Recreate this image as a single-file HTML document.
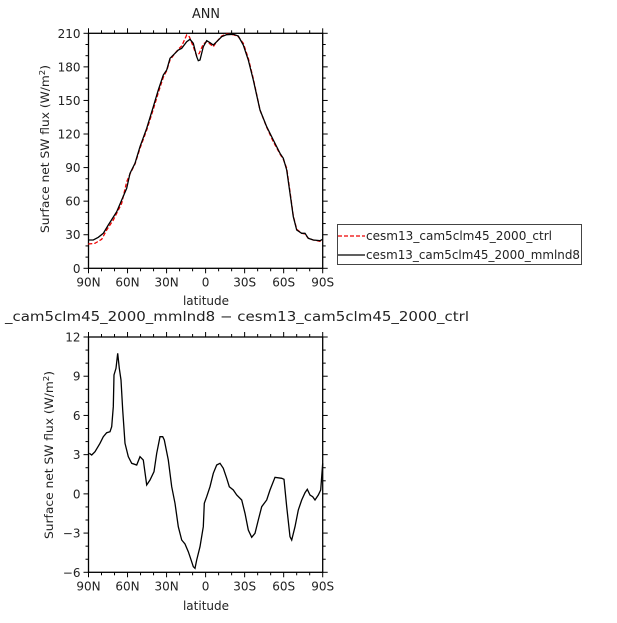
<!DOCTYPE html>
<html><head><meta charset="utf-8"><style>
body{margin:0;background:#fff;width:617px;height:618px;overflow:hidden}
text{font-family:"DejaVu Sans","Liberation Sans",sans-serif;fill:#222}
</style></head><body>
<svg id="s" width="617" height="618" xmlns="http://www.w3.org/2000/svg">
<text x="206" y="18" font-size="13" text-anchor="middle" textLength="28" lengthAdjust="spacingAndGlyphs">ANN</text>
<text x="5" y="321" font-size="13" textLength="464" lengthAdjust="spacingAndGlyphs">_cam5clm45_2000_mmlnd8 − cesm13_cam5clm45_2000_ctrl</text>
<text transform="translate(49,65) rotate(-90)" font-size="11.5" text-anchor="end" textLength="168" lengthAdjust="spacingAndGlyphs">Surface net SW flux (W/m<tspan font-size="8" dy="-4">2</tspan><tspan dy="4">)</tspan></text>
<text transform="translate(53,371) rotate(-90)" font-size="11.5" text-anchor="end" textLength="168" lengthAdjust="spacingAndGlyphs">Surface net SW flux (W/m<tspan font-size="8" dy="-4">2</tspan><tspan dy="4">)</tspan></text>
<text x="206" y="305" font-size="12" text-anchor="middle">latitude</text>
<text x="206" y="610" font-size="12" text-anchor="middle">latitude</text>
<rect x="337.5" y="224.5" width="244" height="40" fill="none" stroke="#444"/>
<line x1="338" y1="236" x2="365" y2="236" stroke="#e00" stroke-width="1.3" stroke-dasharray="4,2"/>
<line x1="338" y1="255" x2="365" y2="255" stroke="#000" stroke-width="1.3"/>
<text x="366" y="240" font-size="12" textLength="186" lengthAdjust="spacingAndGlyphs">cesm13_cam5clm45_2000_ctrl</text>
<text x="366" y="259" font-size="12" textLength="214" lengthAdjust="spacingAndGlyphs">cesm13_cam5clm45_2000_mmlnd8</text>
</svg>
<script>
const s=document.getElementById('s'),NS="http://www.w3.org/2000/svg";
function el(t,a,txt){const e=document.createElementNS(NS,t);for(const k in a)e.setAttribute(k,a[k]);if(txt!=null)e.textContent=txt;s.appendChild(e);return e;}
function frame(y0,y1,labels,minorN){
 const x0=88.5,x1=322.7;
 el('rect',{x:x0,y:y0,width:x1-x0,height:y1-y0,fill:'none',stroke:'#000','stroke-width':1.3});
 const xl=['90N','60N','30N','0','30S','60S','90S'];
 for(let i=0;i<=18;i++){const x=x0+(x1-x0)*i/18,L=i%3==0?5:3;
  el('line',{x1:x,y1:y1,x2:x,y2:y1+L,stroke:'#000'});el('line',{x1:x,y1:y0,x2:x,y2:y0-L,stroke:'#000'});
  if(i%3==0)el('text',{x:x,y:y1+18,'font-size':12,'text-anchor':'middle'},xl[i/3]);}
 const n=labels.length-1;
 for(let i=0;i<=n*minorN;i++){const y=y1-(y1-y0)*i/(n*minorN),L=i%minorN==0?5:3;
  el('line',{x1:x0,y1:y,x2:x0-L,y2:y,stroke:'#000'});el('line',{x1:x1,y1:y,x2:x1+L,y2:y,stroke:'#000'});
  if(i%minorN==0)el('text',{x:x0-8,y:y+4.5,'font-size':12,'text-anchor':'end'},labels[i/minorN]);}
}
frame(33.3,268.3,['0','30','60','90','120','150','180','210'],3);
frame(337,572.3,['−6','−3','0','3','6','9','12'],3);
function path(pts,fx,fy,attrs){let d='';pts.forEach((p,i)=>{d+=(i?'L':'M')+fx(p[0]).toFixed(1)+','+fy(p[1]).toFixed(1)});attrs.d=d;attrs.fill='none';el('path',attrs);}
const topB=[[175,720],[190,720],[205,712],[220,700],[235,675],[260,635],[290,565],[300,520],[315,490],[330,440],[350,385],[370,320],[385,270],[400,225],[410,210],[420,175],[435,160],[445,150],[455,145],[470,125],[480,118],[490,130],[500,170],[505,182],[510,180],[520,140],[530,122],[540,128],[550,135],[560,125],[575,110],[590,104],[610,103],[625,108],[640,135],[655,180],[670,240],[690,330],[710,380],[730,420],[750,460],[760,475],[770,510],[780,580],[790,650],[800,690],[815,700],[825,700],[835,715],[850,720],[870,722],[878,718]];
const topR=[[175,732],[195,730],[215,718],[230,690],[250,660],[275,610],[290,545],[300,522],[315,492],[330,445],[350,390],[370,328],[385,278],[400,232],[410,212],[420,180],[435,160],[445,148],[455,138],[470,105],[478,110],[490,140],[500,168],[508,160],[520,132],[530,125],[540,132],[550,140],[560,125],[575,108],[590,102],[610,104],[625,110],[640,130],[655,175],[670,236],[690,330],[710,382],[730,425],[750,462],[760,478],[770,505],[780,575],[790,648],[800,688],[815,700],[825,702],[835,715],[850,720],[870,724],[878,722]];
path(topR,X=>30+X/3,Y=>Y/3,{stroke:'#e00','stroke-width':1.3,'stroke-dasharray':'4,2'});
path(topB,X=>30+X/3,Y=>Y/3,{stroke:'#000','stroke-width':1.3});
const bot=[[268,460],[275,465],[285,455],[300,430],[310,410],[320,398],[330,395],[335,380],[340,320],[342,225],[348,205],[353,160],[358,205],[363,240],[368,330],[375,430],[385,470],[395,490],[410,495],[420,470],[430,480],[440,555],[450,540],[462,515],[470,460],[480,410],[488,410],[493,420],[505,480],[515,560],[525,610],[535,680],[545,720],[555,732],[565,755],[570,770],[580,800],[585,805],[590,780],[600,740],[610,680],[613,610],[620,590],[630,560],[640,520],[650,495],[660,490],[670,505],[680,535],[688,560],[700,570],[710,585],[725,600],[735,640],[745,690],[755,712],[765,700],[775,660],[785,620],[800,600],[810,570],[825,532],[845,535],[852,538],[860,620],[870,710],[875,720],[885,680],[895,630],[905,600],[915,578],[922,568],[930,585],[938,590],[945,600],[955,585],[962,570],[968,490]];
path(bot,X=>X/3,Y=>300+Y/3,{stroke:'#000','stroke-width':1.3});
</script>
</body></html>
